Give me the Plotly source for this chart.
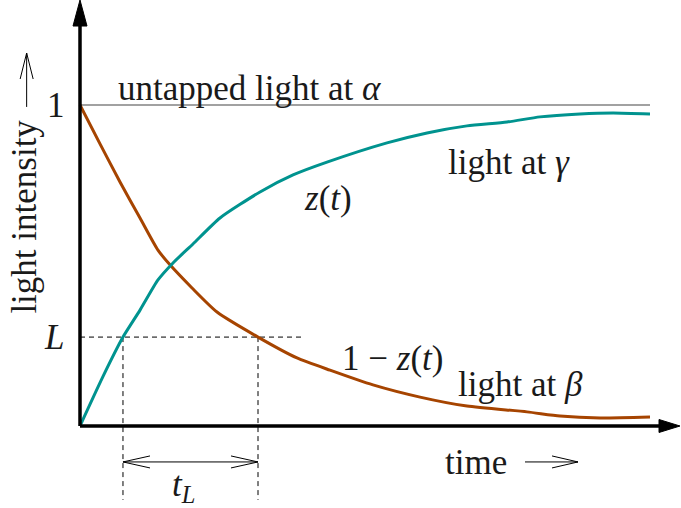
import plotly.graph_objects as go

# Light reaching gamma, z(t), and light remaining at beta, 1 - z(t)
t_gamma = [0.0, 0.40, 0.754, 1.053, 1.368, 1.632, 1.982, 2.456, 3.158, 3.737,
           4.333, 5.386, 6.088, 6.789, 7.491, 8.070, 8.772, 9.351, 10.0]
z_gamma = [0.0, 0.153, 0.277, 0.361, 0.455, 0.508, 0.567, 0.648, 0.729, 0.782,
           0.822, 0.882, 0.913, 0.935, 0.947, 0.963, 0.972, 0.975, 0.972]

t_beta = [0.0, 0.351, 0.702, 1.053, 1.368, 1.579, 1.965, 2.404, 3.123, 3.807,
          4.386, 5.140, 5.965, 6.789, 7.842, 8.421, 9.123, 10.0]
z_beta = [1.0, 0.879, 0.760, 0.648, 0.548, 0.502, 0.430, 0.355, 0.277, 0.212,
          0.174, 0.128, 0.090, 0.062, 0.044, 0.031, 0.025, 0.028]

# Threshold level L and the two times where the curves reach it
L_level = 0.277
t_rise = 0.754
t_fall = 3.123
t_end = 10.0

TEAL = "#00938F"
BROWN = "#A64400"
FONT = "Liberation Serif"
FS = 35

X_RANGE = [-80 / 57, 601 / 57]
Y_RANGE = [-82 / 321, 426 / 321]

fig = go.Figure()


def seg(xs, ys, color="black", width=1.0, dash="solid", shape="linear"):
    fig.add_trace(go.Scatter(x=xs, y=ys, mode="lines",
                             line=dict(color=color, width=width, dash=dash,
                                       shape=shape, smoothing=0.6),
                             hoverinfo="skip", showlegend=False))


def tri(xs, ys):
    fig.add_trace(go.Scatter(x=xs, y=ys, mode="lines", fill="toself",
                             fillcolor="black", line=dict(color="black", width=1),
                             hoverinfo="skip", showlegend=False))


def open_head(tip_x, tip_y, dx, dy, horizontal=True):
    # LaTeX-style open arrow head: two thin barbs meeting at the tip
    if horizontal:
        seg([tip_x + dx, tip_x, tip_x + dx], [tip_y + dy, tip_y, tip_y - dy], width=1)
    else:
        seg([tip_x + dx, tip_x, tip_x - dx], [tip_y + dy, tip_y, tip_y + dy], width=1)


# untapped light at alpha
seg([0, t_end], [1, 1], color="#444444", width=1.2)

# threshold guides
dash = "5px,4px"
seg([0, 3.91], [L_level, L_level], width=1, dash=dash)
seg([t_rise, t_rise], [L_level, -0.23], width=1, dash=dash)
seg([t_fall, t_fall], [L_level, -0.23], width=1, dash=dash)

# curves
seg(t_beta, z_beta, color=BROWN, width=3, shape="spline")
seg(t_gamma, z_gamma, color=TEAL, width=3, shape="spline")

# axes with filled arrow heads
seg([0, 0], [0, 1.25], width=3.5)
tri([-0.1228, 0.1228, 0, -0.1228], [1.246, 1.246, 1.327, 1.246])
seg([0, 10.16], [0, 0], width=3.5)
tri([10.158, 10.158, 10.526, 10.158], [0.0202, -0.0202, 0, 0.0202])

# t_L double arrow
y_arr = -0.112
seg([t_rise, t_fall], [y_arr, y_arr], width=1)
open_head(t_rise, y_arr, 0.474, 0.0187)
open_head(t_fall, y_arr, -0.474, 0.0187)

# time arrow
seg([7.807, 8.737], [y_arr, y_arr], width=1)
open_head(8.737, y_arr, -0.456, 0.0187)

# intensity arrow
seg([-0.936, -0.936], [0.994, 1.162], width=1)
open_head(-0.936, 1.162, 0.114, -0.081, horizontal=False)


def label(text, x, y, xanchor="center", angle=0):
    fig.add_annotation(x=x, y=y, text=text, showarrow=False, xanchor=xanchor,
                       yanchor="middle", textangle=angle,
                       font=dict(family=FONT, size=FS, color="#1a1a1a"))


label("untapped light at <i>α</i>", 0.64, 1.05, xanchor="left")
label("1", -0.22, 1.0, xanchor="right")
label("<i>L</i>", -0.25, L_level, xanchor="right")
label("<i>z</i>(<i>t</i>)", 4.35, 0.71)
label("light at <i>γ</i>", 7.53, 0.82)
label("1 − <i>z</i>(<i>t</i>)", 5.49, 0.21)
label("light at <i>β</i>", 7.72, 0.13)
label("time", 6.95, -0.115)
label("<i>t</i><sub><i>L</i></sub>", 1.81, -0.19)
label("light intensity", -0.99, 0.651, angle=-90)

fig.update_layout(
    width=681, height=508,
    margin=dict(l=0, r=0, t=0, b=0),
    paper_bgcolor="white", plot_bgcolor="white",
    xaxis=dict(range=X_RANGE, visible=False, fixedrange=True),
    yaxis=dict(range=Y_RANGE, visible=False, fixedrange=True),
    showlegend=False,
)

fig.write_html("out.html")
